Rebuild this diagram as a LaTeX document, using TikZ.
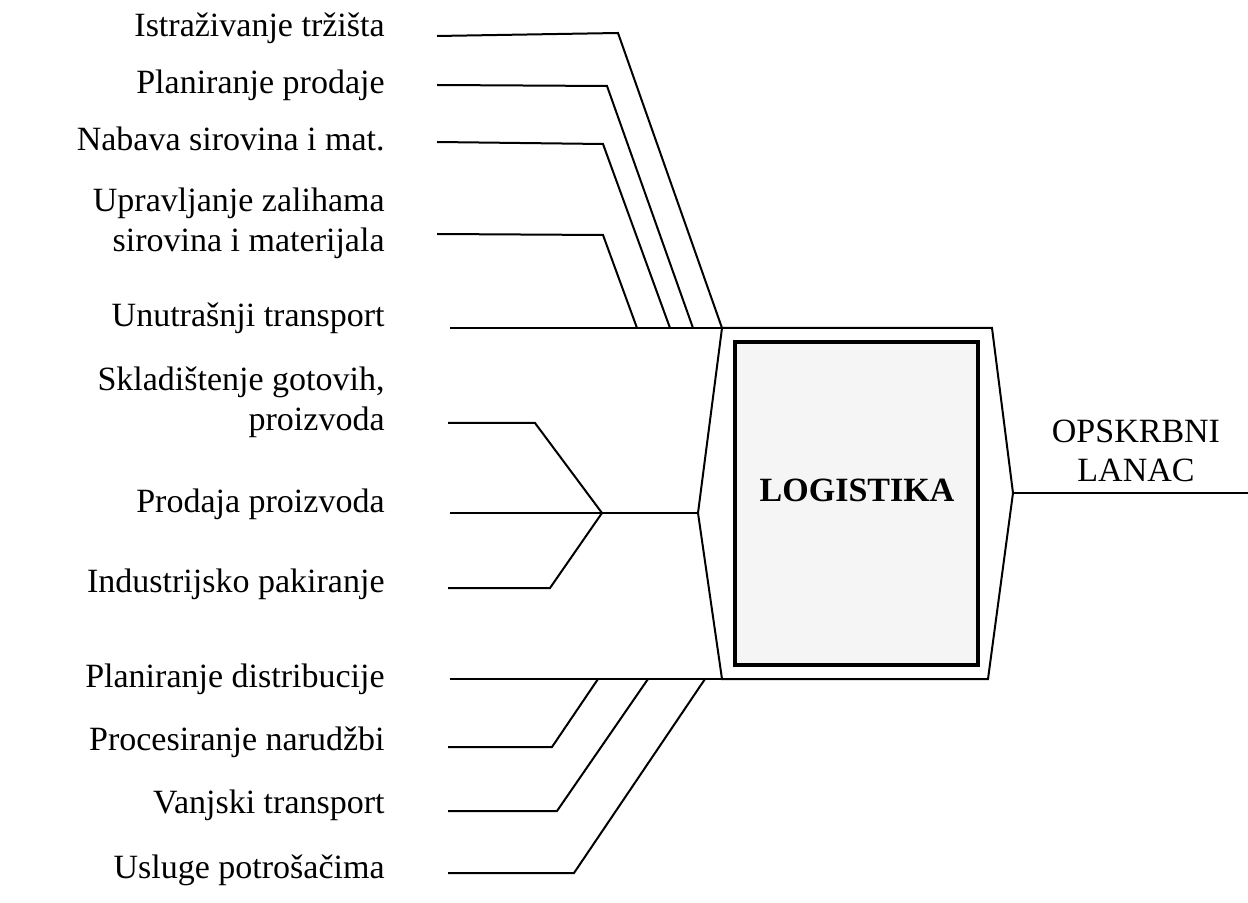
\documentclass[tikz,border=0pt]{standalone}
\usepackage{fontspec}
\setmainfont{Liberation Serif}
\begin{document}
\begin{tikzpicture}[x=0.5pt,y=-0.5pt,
  lbl/.style={anchor=base east, inner sep=0pt, align=right, font=\fontsize{17}{20}\selectfont},
  conn/.style={line width=1pt, line join=miter},
  hexa/.style={line width=1pt, line join=miter},
  core/.style={draw, line width=2pt, fill=gray!8}]
\useasboundingbox (0,0) rectangle (1248,903);

% labels (base anchor = baseline of last line)
\node[lbl] (l1) at (385,37) {Istraživanje tržišta};
\node[lbl] (l2) at (385,94) {Planiranje prodaje};
\node[lbl] (l3) at (385,151) {Nabava sirovina i mat.};
\node[lbl] (l4) at (385,252) {Upravljanje zalihama\\sirovina i materijala};
\node[lbl] (l5) at (385,327) {Unutrašnji transport};
\node[lbl] (l6) at (385,431) {Skladištenje gotovih,\\proizvoda};
\node[lbl] (l7) at (385,513) {Prodaja proizvoda};
\node[lbl] (l8) at (385,592) {Industrijsko pakiranje};
\node[lbl] (l9) at (385,687) {Planiranje distribucije};
\node[lbl] (l10) at (385,750) {Procesiranje narudžbi};
\node[lbl] (l11) at (385,813) {Vanjski transport};
\node[lbl] (l12) at (385,878) {Usluge potrošačima};

% hexagon vertices
\coordinate (TL) at (722,328);
\coordinate (TR) at (992,328);
\coordinate (R)  at (1013,493);
\coordinate (BR) at (988,679);
\coordinate (BL) at (722,679);
\coordinate (L)  at (698,513);
\draw[hexa] (TL) -- (TR) -- (R) -- (BR) -- (BL) -- (L) -- cycle;

% central box
\node[core, minimum width=243*0.5pt, minimum height=323*0.5pt, inner sep=0pt] (log) at (856.5,503.5) {};
\node[font=\fontsize{17}{20}\selectfont\bfseries, inner sep=0pt] (logt) at (857,490) {LOGISTIKA};

% output
\coordinate (out) at (1248,493);
\draw[conn] (R) -- (out);
\node[font=\fontsize{17}{20}\selectfont, align=center, anchor=base, inner sep=0pt] (ol) at (1136,482) {OPSKRBNI\\LANAC};

% top group
\coordinate (a0) at (437,36);  \coordinate (a1) at (618,33);  \coordinate (a2) at (722,328);
\coordinate (b0) at (437,85);  \coordinate (b1) at (607,86);  \coordinate (b2) at (693,328);
\coordinate (c0) at (437,142); \coordinate (c1) at (603,144); \coordinate (c2) at (670,328);
\coordinate (d0) at (437,234); \coordinate (d1) at (603,235); \coordinate (d2) at (637,328);
\coordinate (e0) at (450,328);
\draw[conn] (a0) -- (a1) -- (a2);
\draw[conn] (b0) -- (b1) -- (b2);
\draw[conn] (c0) -- (c1) -- (c2);
\draw[conn] (d0) -- (d1) -- (d2);
\draw[conn] (e0) -- (TL);

% middle group
\coordinate (f0) at (448,423); \coordinate (f1) at (535,423);
\coordinate (hub) at (602,513);
\coordinate (g0) at (450,513);
\coordinate (h0) at (448,588); \coordinate (h1) at (550,588);
\draw[conn] (f0) -- (f1) -- (hub);
\draw[conn] (h0) -- (h1) -- (hub);
\draw[conn] (g0) -- (L);

% bottom group
\coordinate (i0) at (450,679);
\coordinate (j0) at (448,747); \coordinate (j1) at (552,747); \coordinate (j2) at (598,679);
\coordinate (k0) at (448,811); \coordinate (k1) at (557,811); \coordinate (k2) at (648,679);
\coordinate (m0) at (448,873); \coordinate (m1) at (574,873); \coordinate (m2) at (705,679);
\draw[conn] (i0) -- (BL);
\draw[conn] (j0) -- (j1) -- (j2);
\draw[conn] (k0) -- (k1) -- (k2);
\draw[conn] (m0) -- (m1) -- (m2);
\end{tikzpicture}
\end{document}
